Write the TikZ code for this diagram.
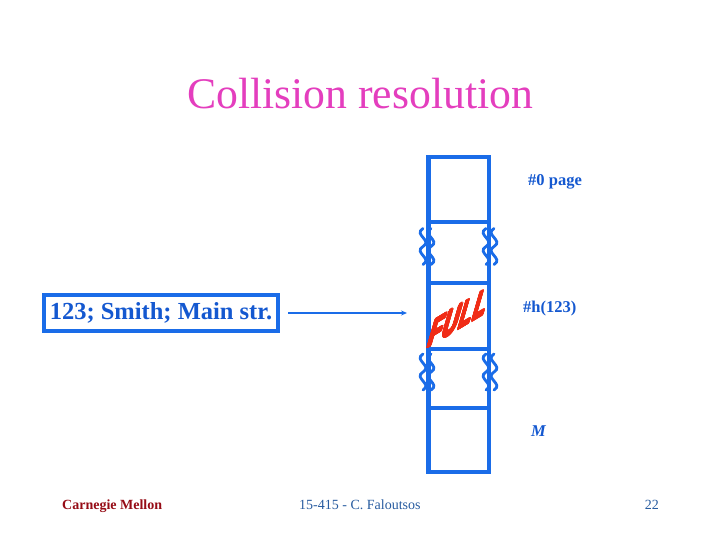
\documentclass[tikz,border=0pt]{standalone}
\usepackage{fontspec}
\usepackage{contour}
\setmainfont{Liberation Serif}
\newfontfamily\fullfont[LetterSpace=4]{Liberation Sans}
\usetikzlibrary{arrows.meta,positioning}
\definecolor{slideblue}{RGB}{26,108,232}
\definecolor{textblue}{RGB}{20,88,208}
\definecolor{titlepink}{RGB}{228,62,190}
\definecolor{fullred}{RGB}{240,44,22}
\definecolor{cmured}{RGB}{150,12,22}
\definecolor{footblue}{RGB}{40,92,160}
\contourlength{0.6pt}
\contournumber{24}
\tikzset{
    cell/.style={draw=slideblue, line width=4.5pt, minimum width=60.5pt, inner sep=0pt, outer sep=0pt},
    wiggle/.style={draw=slideblue, line width=2.8pt, line cap=round},
    lbl/.style={text=textblue, font=\fontsize{16.5}{18}\selectfont\bfseries, inner sep=0pt},
    foot/.style={font=\fontsize{14}{16}\selectfont, inner sep=0pt},
    brk/.pic={
        \foreach \dx in {-4,4}
            \draw[wiggle] (\dx,-18) .. controls (\dx-10,-12) and (\dx+10,-6) .. (\dx,0)
                .. controls (\dx-10,6) and (\dx+10,12) .. (\dx,18);
    }
}
\begin{document}
\begin{tikzpicture}[x=1pt, y=-1pt]
    \useasboundingbox[fill=white] (0,0) rectangle (720,540);
    \node[text=titlepink, font=\fontsize{43.7}{48}\selectfont, anchor=base, inner sep=0pt] (title) at (360,109) {Collision resolution};

    % the record
    \node[draw=slideblue, line width=4pt, minimum width=234pt, minimum height=36pt, inner sep=0pt,
          text=textblue, font=\fontsize{24.5}{26}\selectfont\bfseries] (rec) at (161,313) {123; Smith; Main str.};
    \coordinate (arrend) at (407,313);
    \draw[-{Stealth[length=6pt,width=5pt]}, slideblue, line width=1.6pt, shorten <=8pt] (rec.east) -- (arrend);

    % the pages
    \node[cell, minimum height=65pt] (page0) at (458.75,189.5) {};
    \node[cell, minimum height=66pt] (pageh) at (458.75,316) {};
    \node[cell, minimum height=64pt] (pageM) at (458.75,440) {};
    \draw[draw=slideblue, line width=4.5pt] (page0.south west) -- (pageh.north west)
        (page0.south east) -- (pageh.north east)
        (pageh.south west) -- (pageM.north west)
        (pageh.south east) -- (pageM.north east);
    \pic at (427,246.5) {brk};
    \pic at (490,246.5) {brk};
    \pic at (427,372) {brk};
    \pic at (490,372) {brk};

    \begin{scope}[shift={(459,318)}]
        \node[cm={1,0.6,0.55,1.9,(0,0)}, transform shape, text=fullred, inner sep=0pt,
              font=\fullfont\fontsize{21.5}{24}\selectfont\bfseries] (full) at (0,0) {\contour{fullred}{FULL}};
    \end{scope}

    \node[lbl, anchor=base west] (lbl0) at (528,186) {\#0 page};
    \node[lbl, anchor=base west] (lblh) at (523,312) {\#h(123)};
    \node[lbl, anchor=base west] (lblM) at (531,436) {\itshape M};

    \node[foot, anchor=base west, text=cmured, font=\fontsize{14}{16}\selectfont\bfseries] (cmu) at (62,509) {Carnegie Mellon};
    \node[foot, anchor=base west, text=footblue] (course) at (299,509) {15-415 - C. Faloutsos};
    \node[foot, anchor=base east, text=footblue] (pgno) at (659,509) {22};
\end{tikzpicture}
\end{document}
